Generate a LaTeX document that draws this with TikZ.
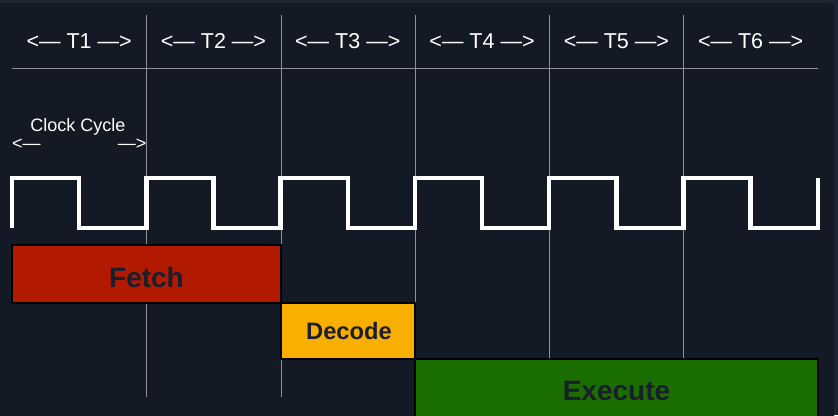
\documentclass[tikz,border=0pt]{standalone}
\usepackage{fontspec}
\setmainfont{Liberation Sans}
\definecolor{bgpanel}{HTML}{131A25}
\definecolor{bgframe}{HTML}{1C2331}
\definecolor{gridgray}{HTML}{8C9098}
\definecolor{fetchred}{HTML}{B21A00}
\definecolor{decodeyellow}{HTML}{F8AF00}
\definecolor{executegreen}{HTML}{1A6E00}
\definecolor{inkdark}{HTML}{1B1E2C}

\begin{document}
\begin{tikzpicture}[line join=miter,x=1pt,y=-1pt,
  grid/.style={draw=gridgray,line width=0.9pt},
  box/.style={draw=black,line width=2pt},
  clock/.style={draw=white,line width=4.5pt},
  tlabel/.style={text=white,inner sep=0pt,anchor=base,font=\fontsize{21.5}{25}\selectfont},
  cyclelabel/.style={text=white,inner sep=0pt,anchor=base,font=\fontsize{18}{22}\selectfont},
  stagelabel/.style={text=inkdark,inner sep=0pt,anchor=base,font=\bfseries\fontsize{28}{32}\selectfont}]
\useasboundingbox (0,0) rectangle (838,415);
\fill[bgframe] (0,0) rectangle (838,415);
\fill[bgpanel,rounded corners=6pt] (-10,3) rectangle (834,430);
% time slots
\foreach \x in {146.7,281,415,549.2,683.5}
  \draw[grid] (\x,15) -- (\x,397);
\draw[grid] (12,68.3) -- (818,68.3);
\foreach \i in {1,...,6}
  \node[tlabel] (t\i) at ({12+134.3*(\i-0.5)},48) {<— T\i{} —>};
\node[cyclelabel] (cycle) at (78,131.7) {Clock Cycle};
\node[cyclelabel,anchor=base west] (cyclel) at (12,149) {<—};
\node[cyclelabel,anchor=base east] (cycler) at (146.5,149) {—>};
% clock
\draw[clock] (12,228) \foreach \k in {0,...,5} {-- ++(0,-50) -- ++(67.15,0) -- ++(0,50) -- ++(67.15,0)} -- ++(0,-50);
% stages
\draw[box,fill=fetchred] (12,245) rectangle (281,302.7);
\draw[box,fill=decodeyellow] (281,302.7) rectangle (415,359);
\draw[box,fill=executegreen] (415,359) rectangle (818,430);
\node[stagelabel] (fetch) at (146.5,287.3) {Fetch};
\node[stagelabel,font=\bfseries\fontsize{23.7}{28}\selectfont] (decode) at (349,339) {Decode};
\node[stagelabel] (execute) at (616.5,400) {Execute};
\end{tikzpicture}
\end{document}
